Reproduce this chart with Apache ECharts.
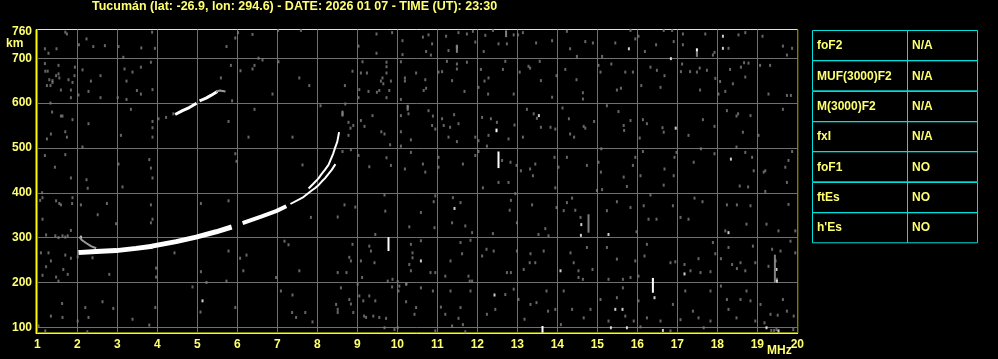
<!DOCTYPE html>
<html><head><meta charset="utf-8">
<script src="https://cdn.jsdelivr.net/npm/echarts@6/dist/echarts.min.js"></script>
<style>html,body{margin:0;padding:0;background:#000;}#c{width:998px;height:359px;}</style>
</head><body><div id="c"></div>
<script>
const titleText = 'Tucumán (lat: -26.9, lon: 294.6) - DATE: 2026 01 07 - TIME (UT): 23:30';
const freqTicks = [1,2,3,4,5,6,7,8,9,10,11,12,13,14,15,16,17,18,19,20];
const heightTicks = [100,200,300,400,500,600,700];
const heightLabels = [100,200,300,400,500,600,700,760];
const paramNames = ['foF2','MUF(3000)F2','M(3000)F2','fxI','foF1','ftEs',"h'Es"];
const paramValues = ['N/A','N/A','N/A','N/A','NO','NO','NO'];

// F-layer trace segments [MHz, km]
const traceA = [[2.09,267],[2.47,269],[2.97,271],[3.47,276],[3.82,280]];
const traceB = [[3.93,282],[4.47,291],[4.97,301],[5.47,313],[5.80,322]];
const traceC = [[6.18,334],[6.63,348],[6.97,359],[7.18,368]];
const traceD = [[7.35,376],[7.63,389],[7.86,405],[7.94,410],[8.03,417],[8.11,425],[8.19,432],[8.28,442],[8.36,451],[8.44,462]];
const traceUpper = [[7.80,411],[7.90,420],[8.03,432],[8.11,442],[8.19,451],[8.28,462],[8.33,473],[8.40,488],[8.44,499],[8.50,514],[8.54,533]];
const hookTrace = [[2.07,300],[2.12,294],[2.22,288],[2.34,281],[2.45,277]];
const secondHopA = [[4.48,576],[4.63,583],[4.80,590],[4.95,598]];
const secondHopB = [[5.09,606],[5.22,611],[5.34,617],[5.47,624]];
const secondHopTail = [[5.49,626],[5.56,628],[5.68,626]];

// background echoes (grey)
const noiseTopLeft = [[1.70,758],[1.74,754],[2.23,743],[1.19,721],[1.28,711],[1.48,721],[2.04,730],[2.40,726],[2.69,728],[3.03,726],[3.15,702],[3.60,723],[3.94,722],[3.87,758],[5.73,726],[5.95,745],[6.02,757],[6.38,753],[7.02,762],[7.59,762],[9.03,727],[9.48,754],[9.48,711],[9.87,757],[10.13,739],[10.13,708],
[1.19,688],[1.20,671],[1.26,671],[1.30,652],[1.38,650],[1.38,646],[1.24,639],[1.33,639],[1.47,661],[1.53,684],[1.53,665],[1.55,656],[1.59,629],[1.78,652],[1.84,629],[1.84,612],[1.88,646],[1.94,680],[1.93,661],[2.03,618],[2.13,674],[2.28,626],[2.34,649],[2.58,661],[2.58,612],[3.01,612],[3.18,676],[3.23,649],[3.23,608],[3.38,669],[3.49,628],[3.59,620],[3.59,680],[3.84,691],[3.88,630],[5.59,656],[5.84,684],[6.08,672],[6.38,676],[6.43,684],[6.53,700],[6.63,696],[6.88,620],[7.03,692],[7.55,656],[7.80,639],[8.69,639],[8.88,671],[9.03,612],[9.05,630],[9.13,692],[9.09,667],[9.24,667],[9.28,626],[9.49,624],[9.55,628],[9.59,649],[9.63,656],[9.65,643],[9.73,691],[9.73,681],[9.73,667],[9.73,612],[9.80,628],[9.84,649],[10.09,692],[10.19,656],[10.19,649],[10.47,667],[10.09,608],
[1.33,600],[1.37,580],[1.59,571],[1.63,571],[1.88,563],[2.28,554],[1.34,531],[1.24,520],[1.70,536],[1.74,524],[3.09,528],[3.34,586],[3.88,559],[3.88,545],[3.88,524],[4.03,565],[4.22,568],[4.40,576],[5.78,559],[5.87,605],[6.28,524],[6.43,586],[7.38,524],[8.08,594],[8.63,576],[8.70,598],[8.78,557],[8.83,544],[8.90,550],[8.78,528],[9.09,561],[9.18,548],[9.38,572],[9.60,536],[9.68,531],[10.09,572],[10.09,536],[10.26,591],[10.28,576],[10.34,518],
[1.19,483],[1.44,457],[1.70,485],[1.84,433],[2.13,502],[2.23,429],[3.03,464],[3.80,474],[3.84,455],[3.88,433],[5.95,487],[5.98,470],[7.63,462],[8.63,492],[8.84,496],[9.03,483],[9.30,458],[9.73,478],[9.82,507],[9.84,461],[10.09,504],[10.19,453],[10.34,490]];

const noiseTopRight = [[10.64,747],[10.78,752],[10.87,732],[10.72,715],[10.84,707],[11.22,749],[11.28,717],[11.53,757],[11.74,754],[11.89,760],[11.95,736],[12.20,751],[12.16,715],[12.39,762],[12.53,732],[12.74,732],[12.91,752],[13.02,752],[13.14,757],[13.47,734],[13.87,739],[14.24,760],[14.32,721],[14.49,704],[14.70,737],[14.89,734],[15.12,704],[15.45,734],[15.83,762],[15.95,743],[16.03,749],[16.19,715],[16.47,730],[16.66,762],[16.87,762],[16.91,737],[17.14,754],[17.14,730],[17.70,754],[17.89,707],[17.93,713],[18.28,722],[18.53,752],[18.70,757],[19.13,749],[19.64,727],[19.74,707],[19.87,722],
[10.70,652],[10.66,628],[10.72,633],[11.03,669],[11.12,670],[11.24,693],[11.37,650],[11.49,687],[11.49,676],[11.74,691],[11.68,626],[12.03,635],[12.09,675],[12.18,649],[12.28,656],[12.27,620],[12.64,675],[12.70,693],[12.91,620],[13.06,669],[13.28,682],[13.32,678],[13.56,693],[13.59,650],[13.87,613],[13.98,661],[14.20,675],[14.48,652],[14.64,623],[14.64,609],[15.03,684],[15.08,669],[15.35,687],[15.49,629],[15.59,633],[15.70,669],[15.89,669],[16.10,639],[16.33,680],[16.49,673],[16.58,635],[16.68,661],[17.09,670],[17.12,687],[17.32,670],[17.49,669],[17.56,678],[17.57,629],[17.74,673],[17.95,655],[18.03,620],[18.07,648],[18.20,626],[18.32,675],[18.39,643],[18.59,680],[18.70,658],[18.67,690],[18.78,689],[19.07,684],[19.28,620],[19.32,684],[19.74,617],[19.84,617],
[10.78,583],[10.89,571],[10.87,550],[10.95,542],[11.12,565],[11.16,550],[11.32,546],[11.28,524],[11.42,574],[11.53,554],[11.49,514],[11.95,524],[12.03,516],[12.12,568],[12.28,528],[12.34,565],[12.49,557],[12.93,551],[12.78,520],[13.14,524],[13.24,586],[13.41,576],[13.49,566],[13.59,546],[13.83,546],[13.95,542],[14.13,589],[14.29,565],[14.32,531],[14.42,524],[14.66,548],[14.70,544],[14.92,559],[15.24,594],[15.53,581],[15.66,550],[15.67,539],[15.83,561],[16.06,522],[16.14,563],[16.24,554],[16.63,545],[16.66,535],[17.28,528],[17.64,563],[17.93,548],[18.24,583],[18.48,571],[18.52,576],[18.64,535],[18.83,572],[19.03,528],[19.64,586],
[10.64,464],[10.70,446],[11.03,479],[11.03,457],[11.64,464],[11.95,483],[12.03,492],[12.24,504],[12.62,472],[12.83,468],[12.98,461],[13.09,449],[13.32,453],[13.45,464],[13.39,438],[13.93,479],[14.03,457],[14.24,479],[14.74,461],[15.10,498],[15.03,468],[15.09,446],[15.66,435],[15.89,461],[15.95,479],[16.14,492],[16.08,438],[16.68,453],[16.91,438],[16.98,490],[16.93,479],[17.41,468],[17.59,498],[17.93,487],[18.48,502],[18.70,490],[18.87,479],[18.91,449],[19.16,446],[19.20,449],[19.70,457],[19.78,472],[19.87,492]];

const noiseBottomLeft = [[1.12,400],[1.13,389],[1.07,383],[1.55,376],[1.47,382],[1.59,373],[1.88,389],[1.87,376],[2.09,373],[2.51,351],[2.74,376],[2.97,331],[3.13,413],[3.84,373],[3.88,341],[3.84,333],[2.26,410],[1.13,341],[1.22,306],[1.45,304],[1.53,300],[1.63,304],[1.70,301],[1.76,304],[1.84,316],[1.09,266],[1.28,266],[1.70,261],[1.84,254],[1.34,248],[1.22,235],[1.13,216],[1.47,212],[1.53,203],[1.65,229],[1.76,218],[2.01,257],[2.80,218],[2.38,255],[3.97,232],[3.97,212],[4.43,266],[5.09,376],[5.09,224],[5.78,382],[5.78,270],[5.73,203],[6.07,254],[6.15,226],[6.23,261],[5.23,200],[4.88,190],[6.97,211],[7.18,292],[7.28,284],[7.55,226],[7.84,345],[8.51,346],[8.68,373],[8.95,368],[8.88,285],[8.80,256],[8.84,248],[9.09,248],[9.30,281],[9.34,270],[9.45,307],[9.43,244],[9.68,395],[9.70,359],[10.30,324],[10.34,285],[10.38,266],[10.30,240],[10.34,226],[10.38,255],[9.76,203],[9.88,207],[10.05,192],[10.22,196],[8.73,222],[9.12,211],[8.51,222],
[1.03,103],[1.34,125],[1.62,153],[1.63,122],[2.01,114],[2.20,144],[2.28,122],[2.63,157],[2.90,142],[3.38,118],[3.80,105],[3.95,144],[5.08,134],[5.95,144],[7.09,181],[7.38,172],[7.37,133],[7.47,122],[7.70,133],[7.88,112],[8.47,151],[8.51,140],[8.51,133],[8.59,188],[8.80,162],[8.90,133],[9.01,196],[9.05,170],[9.15,159],[9.17,125],[9.22,122],[9.40,125],[9.45,159],[9.55,122],[9.72,120],[9.87,190],[10.01,202],[10.03,181],[10.22,157],[10.23,197],[10.43,129],[10.47,144],[9.68,99],[9.93,95],[10.01,99],[9.30,170],[8.84,152],[1.20,92],[2.25,90]];

const noiseBottomRight = [[10.95,393],[10.91,380],[10.59,356],[10.93,322],[11.39,389],[11.58,378],[11.37,333],[11.70,326],[11.87,311],[12.14,411],[12.39,309],[12.53,423],[12.78,423],[12.81,361],[12.95,398],[12.99,333],[12.84,383],[13.37,373],[13.53,307],[13.70,320],[13.78,304],[13.95,411],[13.98,367],[14.16,360],[14.24,378],[14.37,388],[14.45,361],[14.58,345],[14.99,405],[15.12,407],[15.24,360],[15.49,380],[15.74,414],[15.83,367],[15.98,313],[16.16,371],[16.28,341],[16.33,395],[16.48,341],[16.66,417],[16.89,371],[17.08,345],[17.28,341],[17.43,388],[17.63,380],[18.20,315],[18.24,373],[18.49,373],[18.56,415],[18.77,413],[18.83,371],[18.73,330],[19.23,330],[19.20,403],[19.74,423],[19.78,374],[19.95,315],[19.53,315],
[10.59,293],[10.83,222],[10.95,222],[11.33,248],[11.20,214],[11.58,289],[11.62,264],[11.83,294],[11.78,214],[11.87,203],[12.12,259],[12.23,274],[12.41,270],[12.74,222],[12.84,222],[12.99,270],[13.16,229],[13.33,264],[13.31,244],[13.45,244],[13.66,270],[14.33,266],[14.41,244],[14.53,226],[14.53,211],[14.64,207],[14.74,278],[14.88,229],[15.24,278],[15.28,207],[15.49,252],[15.64,207],[15.83,211],[15.95,248],[16.03,214],[16.18,259],[16.24,285],[16.39,207],[16.83,244],[16.95,246],[17.18,240],[17.33,226],[17.53,253],[17.58,222],[17.83,224],[17.89,289],[17.95,264],[18.09,253],[18.28,278],[18.37,240],[18.49,231],[18.58,244],[18.70,226],[18.89,281],[18.95,244],[19.28,236],[19.37,274],[19.49,207],[19.58,270],[19.83,292],[19.95,266],
[10.59,188],[10.89,181],[11.09,145],[11.33,181],[11.20,129],[11.53,120],[11.37,103],[11.58,144],[11.64,106],[11.83,181],[11.81,203],[12.24,129],[12.45,140],[12.70,173],[12.91,185],[13.03,162],[13.18,118],[13.33,151],[13.48,155],[13.73,181],[13.77,136],[13.95,140],[14.09,106],[14.16,181],[14.37,140],[14.66,121],[14.83,140],[15.08,162],[15.28,114],[15.49,166],[15.70,125],[15.64,188],[15.91,114],[16.03,159],[16.08,101],[16.24,121],[16.58,114],[16.83,92],[16.89,151],[17.08,117],[17.20,181],[17.39,136],[17.53,121],[17.66,99],[17.83,114],[17.83,181],[18.09,192],[18.24,162],[18.28,140],[18.48,121],[18.58,162],[18.73,181],[18.83,159],[18.95,114],[19.08,151],[19.18,110],[19.33,129],[19.51,127],[19.64,162],[19.74,136],[19.91,125],[19.35,93],[19.42,93],[19.48,95],[19.90,95],[10.95,92],[11.70,90]];

// bright (white) echoes
const whiteEchoes = [[11.49,725],[15.79,721],[18.14,749],[18.14,722],[16.84,699],[13.54,572],[16.96,544],[18.34,475],[5.13,159],[11.43,365],[14.60,329],[14.59,305],[15.28,307],[18.28,311],[10.59,248],[14.08,226],[17.18,219],[19.45,248],[19.48,229],[19.49,203],[12.43,172],[15.45,140],[15.63,140],[16.43,166],[15.34,99],[15.74,99],[16.64,93],[19.23,99],[19.53,92],[2.09,301]];
// vertical streaks [MHz, km bottom, km top]
const whiteStreaks = [[12.53,455,492],[9.78,270,301],[16.39,177,210],[13.63,88,103],[12.48,535,543],[17.49,715,722]];
const greyStreaks = [[14.78,311,352],[11.49,712,730],[10.26,583,596],[8.63,570,583],[12.72,747,762],[19.44,200,262],[17.49,703,715]];

const chart = echarts.init(document.getElementById('c'), null, {renderer:'canvas'});
const yellow = '#ffff00';
const labelYellow = '#ffff70';
const gridGrey = '#707070';
const noiseGrey = '#808080';
const cyan = '#00dede';
const fontStack = '"Liberation Sans", Arial, sans-serif';

function lineSeries(data, width, color) {
  return {type:'line', data:data, showSymbol:false, symbol:'none', silent:true, z:5,
    lineStyle:{color:color||'#ffffff', width:width, cap:'square'}};
}
function scatterSeries(data, color) {
  return {type:'scatter', data:data, symbol:'rect', symbolSize:[2,3], silent:true, z:3,
    itemStyle:{color:color}};
}
function streakSeries(data, color) {
  return {type:'custom', data:data, silent:true, z:4, encode:{x:0, y:[1,2]},
    renderItem:function(params, api){
      const p1 = api.coord([api.value(0), api.value(1)]);
      const p2 = api.coord([api.value(0), api.value(2)]);
      return {type:'rect', shape:{x:p1[0]-1, y:p2[1], width:2, height:p1[1]-p2[1]}, style:{fill:color}};
    }};
}

const graphics = [
  {type:'text', left:92, top:0, style:{text:titleText, fill:labelYellow, font:'bold 12.5px ' + fontStack}},
  {type:'text', left:6, top:38, style:{text:'km', fill:labelYellow, font:'bold 12px ' + fontStack}},
  {type:'text', left:767, top:345, style:{text:'MHz', fill:labelYellow, font:'bold 12px ' + fontStack}}
];
const tX = 812, tCol = 907, tR = 977, tTop = 30, rowH = 30.3;
paramNames.forEach(function(name, i){
  const y = tTop + i*rowH;
  graphics.push({type:'rect', shape:{x:tX+0.5, y:Math.round(y)+0.5, width:tCol-tX, height:rowH}, style:{fill:'transparent', stroke:cyan, lineWidth:1}});
  graphics.push({type:'rect', shape:{x:tCol+0.5, y:Math.round(y)+0.5, width:tR-tCol, height:rowH}, style:{fill:'transparent', stroke:cyan, lineWidth:1}});
  graphics.push({type:'text', x:817, y:y+rowH/2+1, style:{text:name, fill:labelYellow, font:'bold 12px ' + fontStack, verticalAlign:'middle'}});
  graphics.push({type:'text', x:912, y:y+rowH/2+1, style:{text:paramValues[i], fill:labelYellow, font:'bold 12px ' + fontStack, verticalAlign:'middle'}});
});

chart.setOption({
  animation:false,
  backgroundColor:'#000000',
  grid:{left:36, top:29.5, width:761.7, height:303.5, show:true, borderColor:yellow, borderWidth:1, backgroundColor:'#000000'},
  xAxis:{type:'value', min:0.9675, max:20.01,
    axisLine:{show:true, lineStyle:{color:yellow, width:1}},
    axisTick:{show:false, customValues:freqTicks},
    axisLabel:{customValues:freqTicks, color:labelYellow, fontWeight:'bold', fontSize:12, fontFamily:fontStack, margin:6},
    splitLine:{show:true, lineStyle:{color:gridGrey, width:1}}},
  yAxis:{type:'value', min:87.3, max:764,
    axisLine:{show:true, lineStyle:{color:yellow, width:1}},
    axisTick:{show:false, customValues:heightTicks},
    axisLabel:{customValues:heightLabels, color:labelYellow, fontWeight:'bold', fontSize:12, fontFamily:fontStack, margin:4},
    splitLine:{show:true, lineStyle:{color:gridGrey, width:1}}},
  graphic:graphics,
  series:[
    scatterSeries(noiseTopLeft, noiseGrey),
    scatterSeries(noiseTopRight, noiseGrey),
    scatterSeries(noiseBottomLeft, noiseGrey),
    scatterSeries(noiseBottomRight, noiseGrey),
    streakSeries(greyStreaks, noiseGrey),
    streakSeries(whiteStreaks, '#ffffff'),
    scatterSeries(whiteEchoes, '#ffffff'),
    lineSeries(hookTrace, 2, '#9a9a9a'),
    lineSeries(traceA, 5),
    lineSeries(traceB, 5),
    lineSeries(traceC, 4),
    lineSeries(traceD, 2),
    lineSeries(traceUpper, 2),
    lineSeries(secondHopA, 3),
    lineSeries(secondHopB, 3),
    lineSeries(secondHopTail, 2, '#9a9a9a')
  ]
});
</script>
</body></html>
